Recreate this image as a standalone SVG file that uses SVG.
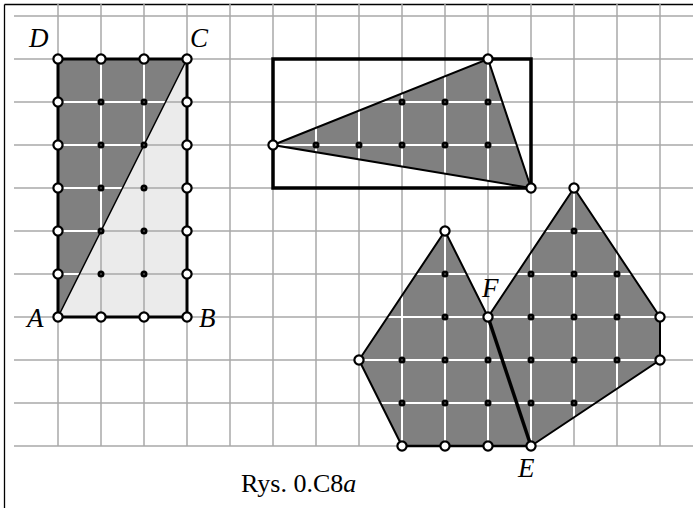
<svg xmlns="http://www.w3.org/2000/svg" xmlns:xlink="http://www.w3.org/1999/xlink" width="693" height="508" viewBox="0 0 693 508">
<style>
.grid{stroke:#a8a8a8;stroke-width:1.5}
.wgrid{stroke:#ffffff;stroke-width:2}
.dark{fill:#808080;stroke:none}
.edge{fill:none;stroke:#000;stroke-linejoin:miter}
.lbl{font-family:"Liberation Serif","Times New Roman",serif;font-size:27px;font-style:italic;fill:#000}
.cap{font-family:"Liberation Serif","Times New Roman",serif;font-size:26px;fill:#000}
</style>
<defs>
<circle id="o" r="4.6" fill="#fff" stroke="#000" stroke-width="2.2"/>
<g id="d"><circle r="3.5" fill="#000"/><circle r="0.7" fill="#999"/></g>
<g id="gl">
<line x1="58" y1="4" x2="58" y2="446"/><line x1="101" y1="4" x2="101" y2="446"/><line x1="144" y1="4" x2="144" y2="446"/><line x1="187" y1="4" x2="187" y2="446"/><line x1="230" y1="4" x2="230" y2="446"/><line x1="273" y1="4" x2="273" y2="446"/><line x1="316" y1="4" x2="316" y2="446"/><line x1="359" y1="4" x2="359" y2="446"/><line x1="402" y1="4" x2="402" y2="446"/><line x1="445" y1="4" x2="445" y2="446"/><line x1="488" y1="4" x2="488" y2="446"/><line x1="531" y1="4" x2="531" y2="446"/><line x1="574" y1="4" x2="574" y2="446"/><line x1="617" y1="4" x2="617" y2="446"/><line x1="660" y1="4" x2="660" y2="446"/>
<line x1="14" y1="16" x2="693" y2="16"/><line x1="14" y1="59" x2="693" y2="59"/><line x1="14" y1="102" x2="693" y2="102"/><line x1="14" y1="145" x2="693" y2="145"/><line x1="14" y1="188" x2="693" y2="188"/><line x1="14" y1="231" x2="693" y2="231"/><line x1="14" y1="274" x2="693" y2="274"/><line x1="14" y1="317" x2="693" y2="317"/><line x1="14" y1="360" x2="693" y2="360"/><line x1="14" y1="403" x2="693" y2="403"/><line x1="14" y1="446" x2="693" y2="446"/>
</g>
<clipPath id="cp">
<polygon points="58,317 58,59 187,59"/>
<polygon points="273,145 488,59 531,188"/>
<polygon points="445,231 488,317 531,446 402,446 359,360"/>
<polygon points="488,317 574,188 660,317 660,360 531,446"/>
</clipPath>
</defs>
<g id="frame"><line x1="4.5" y1="4.5" x2="693" y2="4.5" stroke="#000" stroke-width="1.3"/><line x1="4.5" y1="4.5" x2="4.5" y2="508" stroke="#000" stroke-width="1.3"/></g>
<polygon id="light" points="58,317 187,317 187,59" fill="#ebebeb"/>
<use class="grid" xlink:href="#gl" stroke="#a8a8a8" stroke-width="1.5"/>
<g id="fills">
<polygon class="dark" points="58,317 58,59 187,59"/>
<polygon class="dark" points="273,145 488,59 531,188"/>
<polygon class="dark" points="445,231 488,317 531,446 402,446 359,360"/>
<polygon class="dark" points="488,317 574,188 660,317 660,360 531,446"/>
</g>
<g clip-path="url(#cp)"><use class="wgrid" xlink:href="#gl" stroke="#fff" stroke-width="2"/></g>
<g id="connectors">
<rect class="edge" x="58" y="59" width="129" height="258" stroke-width="3"/>
<line x1="58" y1="317" x2="187" y2="59" stroke="#000" stroke-width="1.5"/>
<rect class="edge" x="273" y="59" width="258" height="129" stroke-width="3.5"/>
<polygon class="edge" points="273,145 488,59 531,188" stroke-width="2"/>
<polyline class="edge" points="402,446 359,360 445,231 488,317 574,188 660,317 660,360 531,446" stroke-width="2"/>
<line x1="402" y1="446" x2="531" y2="446" stroke="#000" stroke-width="2.5"/>
<line x1="488" y1="317" x2="531" y2="446" stroke="#000" stroke-width="3.5"/>
</g>
<g id="fig1">
<use xlink:href="#o" x="58" y="59"/><use xlink:href="#o" x="101" y="59"/><use xlink:href="#o" x="144" y="59"/><use xlink:href="#o" x="187" y="59"/>
<use xlink:href="#o" x="58" y="102"/><use xlink:href="#o" x="58" y="145"/><use xlink:href="#o" x="58" y="188"/><use xlink:href="#o" x="58" y="231"/><use xlink:href="#o" x="58" y="274"/>
<use xlink:href="#o" x="187" y="102"/><use xlink:href="#o" x="187" y="145"/><use xlink:href="#o" x="187" y="188"/><use xlink:href="#o" x="187" y="231"/><use xlink:href="#o" x="187" y="274"/>
<use xlink:href="#o" x="58" y="317"/><use xlink:href="#o" x="101" y="317"/><use xlink:href="#o" x="144" y="317"/><use xlink:href="#o" x="187" y="317"/>
<use xlink:href="#d" x="101" y="102"/><use xlink:href="#d" x="144" y="102"/><use xlink:href="#d" x="101" y="145"/><use xlink:href="#d" x="144" y="145"/><use xlink:href="#d" x="101" y="188"/><use xlink:href="#d" x="144" y="188"/><use xlink:href="#d" x="101" y="231"/><use xlink:href="#d" x="144" y="231"/><use xlink:href="#d" x="101" y="274"/><use xlink:href="#d" x="144" y="274"/>
<text class="lbl" x="29" y="47">D</text>
<text class="lbl" x="190" y="47">C</text>
<text class="lbl" x="27" y="327">A</text>
<text class="lbl" x="199" y="327">B</text>
</g>
<g id="fig2">
<use xlink:href="#o" x="273" y="145"/><use xlink:href="#o" x="488" y="59"/><use xlink:href="#o" x="531" y="188"/>
<use xlink:href="#d" x="402" y="102"/><use xlink:href="#d" x="445" y="102"/><use xlink:href="#d" x="488" y="102"/>
<use xlink:href="#d" x="316" y="145"/><use xlink:href="#d" x="359" y="145"/><use xlink:href="#d" x="402" y="145"/><use xlink:href="#d" x="445" y="145"/><use xlink:href="#d" x="488" y="145"/>
</g>
<g id="fig3">
<use xlink:href="#o" x="445" y="231"/><use xlink:href="#o" x="488" y="317"/><use xlink:href="#o" x="359" y="360"/>
<use xlink:href="#o" x="402" y="446"/><use xlink:href="#o" x="445" y="446"/><use xlink:href="#o" x="488" y="446"/><use xlink:href="#o" x="531" y="446"/>
<use xlink:href="#o" x="574" y="188"/><use xlink:href="#o" x="660" y="317"/><use xlink:href="#o" x="660" y="360"/>
<use xlink:href="#d" x="574" y="231"/>
<use xlink:href="#d" x="445" y="274"/><use xlink:href="#d" x="531" y="274"/><use xlink:href="#d" x="574" y="274"/><use xlink:href="#d" x="617" y="274"/>
<use xlink:href="#d" x="445" y="317"/><use xlink:href="#d" x="531" y="317"/><use xlink:href="#d" x="574" y="317"/><use xlink:href="#d" x="617" y="317"/>
<use xlink:href="#d" x="402" y="360"/><use xlink:href="#d" x="445" y="360"/><use xlink:href="#d" x="488" y="360"/><use xlink:href="#d" x="531" y="360"/><use xlink:href="#d" x="574" y="360"/><use xlink:href="#d" x="617" y="360"/>
<use xlink:href="#d" x="402" y="403"/><use xlink:href="#d" x="445" y="403"/><use xlink:href="#d" x="488" y="403"/><use xlink:href="#d" x="531" y="403"/><use xlink:href="#d" x="574" y="403"/>
<text class="lbl" x="482" y="297">F</text>
<text class="lbl" x="518" y="477">E</text>
</g>
<text class="cap" x="241" y="492">Rys. 0.C8<tspan font-style="italic">a</tspan></text>
</svg>
